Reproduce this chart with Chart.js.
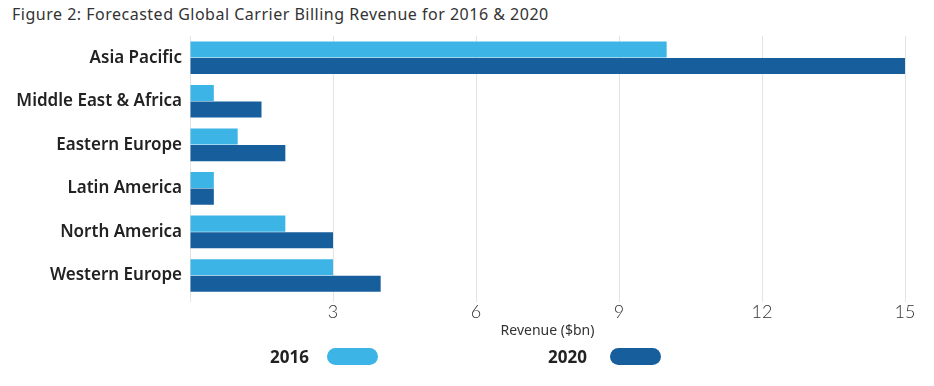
<!DOCTYPE html>
<html>
<head>
<meta charset="utf-8">
<script src="https://cdn.jsdelivr.net/npm/chart.js@4"></script>
<style>
  body { margin: 0; background: #fff; font-family: "Noto Sans", sans-serif; }
  #wrap { position: relative; width: 934px; height: 386px; }
  #title { position: absolute; left: 12px; top: 3px; font-size: 16px; letter-spacing: 0.5px; color: #333; }
  #revChart { position: absolute; left: 0; top: 0; }
  .leg { position: absolute; top: 345px; font-weight: 700; font-size: 17px; color: #222; }
  .pill { position: absolute; top: 348px; width: 51px; height: 17px; border-radius: 9px; }
</style>
</head>
<body>
<div id="wrap">
  <div id="title">Figure 2: Forecasted Global Carrier Billing Revenue for 2016 &amp; 2020</div>
  <canvas id="revChart" width="934" height="386"></canvas>
  <div class="leg" style="left:270px">2016</div>
  <div class="pill" style="left:327px;background:#3cb4e5"></div>
  <div class="leg" style="left:548px">2020</div>
  <div class="pill" style="left:610px;background:#175e9c"></div>
</div>
<script>
// Data for the chart
const regions = ["Asia Pacific", "Middle East & Africa", "Eastern Europe", "Latin America", "North America", "Western Europe"];
const rev2016 = [10, 0.5, 1, 0.5, 2, 3];
const rev2020 = [15, 1.5, 2, 0.5, 3, 4];
const xTicks = [0, 3, 6, 9, 12, 15];

const config = {
  type: 'bar',
  data: {
    labels: regions,
    datasets: [
      { label: "2016", data: rev2016, backgroundColor: "#3cb4e5", borderWidth: 0 },
      { label: "2020", data: rev2020, backgroundColor: "#175e9c", borderWidth: 0 }
    ]
  },
  options: {
    indexAxis: 'y',
    responsive: false,
    animation: false,
    layout: { padding: { top: 36, right: 29, bottom: 47, left: 0 } },
    datasets: { bar: { categoryPercentage: 0.76, barPercentage: 0.97 } },
    plugins: { legend: { display: false }, tooltip: { enabled: false } },
    scales: {
      x: {
        min: 0,
        max: 15,
        afterBuildTicks: (axis) => { axis.ticks = xTicks.map(v => ({ value: v })); },
        grid: { color: "#e3e3e3", drawTicks: true, tickLength: 5 },
        border: { display: false },
        ticks: {
          callback: (v) => v === 0 ? '' : v,
          color: "#333",
          font: { family: "Lato", size: 18, weight: 300, lineHeight: 1 },
          padding: 1
        },
        title: {
          display: true,
          text: "Revenue ($bn)",
          color: "#333",
          font: { family: "Noto Sans", size: 14 },
          padding: { top: 0, bottom: 0 }
        }
      },
      y: {
        afterFit: (axis) => { axis.width = 190; },
        grid: { display: false },
        border: { display: false },
        ticks: {
          color: "#222",
          font: { family: "Noto Sans", size: 17, weight: 600 },
          padding: 0
        }
      }
    }
  }
};

const revChart = new Chart(document.getElementById("revChart"), config);
</script>
</body>
</html>
